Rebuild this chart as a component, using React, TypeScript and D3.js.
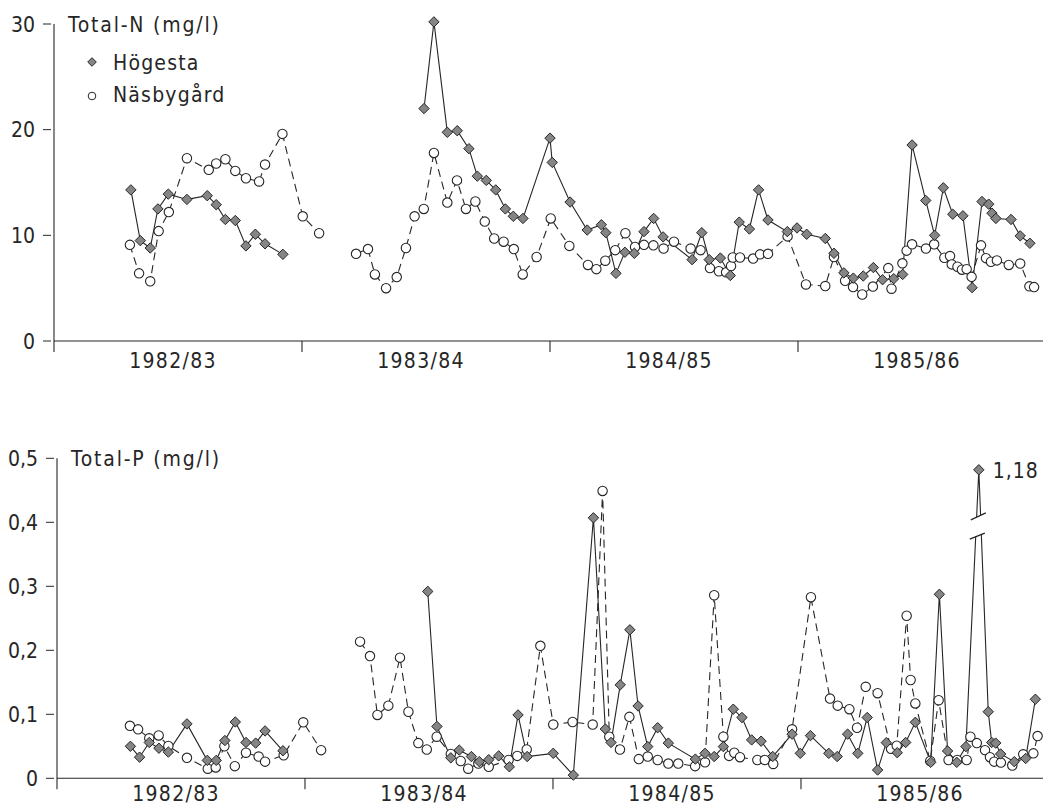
import React from "react";
import * as d3 from "d3";

// ---- Data (t = years since start of 1982/83 season, value) ----
const seasons = ["1982/83", "1983/84", "1984/85", "1985/86"];
const nTicks = [0, 10, 20, 30];
const nTickLabels = ["0", "10", "20", "30"];
const pTicks = [0, 0.1, 0.2, 0.3, 0.4, 0.5];
const pTickLabels = ["0", "0,1", "0,2", "0,3", "0,4", "0,5"];

// Total-N, Högesta
const hogN1: [number, number][] = [
  [0.310, 14.3], [0.348, 9.5], [0.388, 8.8], [0.419, 12.5], [0.461, 13.9], [0.536, 13.4],
  [0.618, 13.75], [0.654, 12.9], [0.691, 11.5], [0.731, 11.4], [0.774, 9.0], [0.812, 10.1],
  [0.851, 9.2], [0.923, 8.2],
];
const hogN2: [number, number][] = [
  [1.492, 22.0], [1.532, 30.2], [1.586, 19.75], [1.626, 19.9], [1.673, 18.2], [1.707, 15.6],
  [1.743, 15.2], [1.781, 14.3], [1.820, 12.5], [1.852, 11.8], [1.891, 11.6], [2.000, 19.2],
  [2.009, 16.9], [2.081, 13.15], [2.150, 10.5], [2.207, 11.0], [2.225, 10.25], [2.266, 6.4],
  [2.302, 8.4], [2.340, 8.3], [2.379, 10.35], [2.418, 11.6], [2.456, 9.85], [2.573, 7.7],
  [2.612, 10.25], [2.642, 7.7], [2.687, 7.85], [2.727, 6.2], [2.763, 11.25], [2.804, 10.6],
  [2.841, 14.3], [2.879, 11.45], [2.957, 10.35], [2.996, 10.7], [3.035, 10.1], [3.110, 9.7],
  [3.145, 8.3], [3.185, 6.45], [3.223, 5.95], [3.263, 6.15], [3.304, 6.95], [3.341, 5.8],
  [3.386, 5.9], [3.422, 6.3], [3.460, 18.55], [3.515, 13.3], [3.551, 10.0], [3.586, 14.5],
  [3.624, 12.0], [3.665, 11.85], [3.702, 5.05], [3.742, 13.2], [3.769, 12.95], [3.782, 12.1],
  [3.798, 11.6], [3.859, 11.5], [3.896, 9.95], [3.935, 9.25],
];
// Total-N, Näsbygård
const nasN1: [number, number][] = [
  [0.306, 9.1], [0.343, 6.4], [0.388, 5.65], [0.422, 10.4], [0.463, 12.2], [0.536, 17.3],
  [0.624, 16.2], [0.654, 16.8], [0.691, 17.2], [0.731, 16.1], [0.774, 15.4], [0.827, 15.1],
  [0.851, 16.7], [0.921, 19.6], [1.003, 11.8], [1.069, 10.2],
];
const nasN2: [number, number][] = [
  [1.218, 8.25], [1.266, 8.7], [1.294, 6.3], [1.339, 5.0], [1.382, 6.05], [1.419, 8.8],
  [1.454, 11.8], [1.491, 12.5], [1.532, 17.8], [1.586, 13.1], [1.625, 15.2], [1.661, 12.5],
  [1.699, 13.2], [1.737, 11.3], [1.775, 9.7], [1.813, 9.4], [1.854, 8.7], [1.890, 6.3],
  [1.946, 7.95], [2.003, 11.6], [2.078, 9.0], [2.153, 7.2], [2.187, 6.8], [2.223, 7.6],
  [2.263, 8.6], [2.304, 10.2], [2.343, 8.9], [2.379, 9.1], [2.417, 9.05], [2.458, 8.75],
  [2.500, 9.4], [2.567, 8.75], [2.607, 8.6], [2.645, 6.9], [2.681, 6.6], [2.710, 6.5],
  [2.730, 7.1], [2.737, 7.9], [2.766, 7.9], [2.819, 7.8], [2.847, 8.2], [2.879, 8.25],
  [2.958, 9.9], [3.032, 5.35], [3.110, 5.2], [3.145, 7.95], [3.190, 5.7], [3.222, 5.1],
  [3.259, 4.4], [3.302, 5.15], [3.364, 6.9], [3.377, 4.95], [3.421, 7.35], [3.438, 8.55],
  [3.460, 9.15], [3.516, 8.75], [3.549, 9.15], [3.590, 7.88], [3.613, 8.04], [3.620, 7.25],
  [3.643, 7.03], [3.661, 6.75], [3.680, 6.8], [3.700, 6.07], [3.738, 9.05], [3.758, 7.84],
  [3.778, 7.5], [3.802, 7.63], [3.850, 7.2], [3.896, 7.33], [3.933, 5.17], [3.952, 5.1],
];

// Total-P, Högesta
const hogP1: [number, number][] = [
  [0.296, 0.050], [0.333, 0.033], [0.372, 0.056], [0.411, 0.047], [0.449, 0.041], [0.524, 0.085],
  [0.606, 0.028], [0.642, 0.028], [0.677, 0.059], [0.719, 0.088], [0.762, 0.056], [0.801, 0.055],
  [0.839, 0.074], [0.911, 0.043],
];
const hogP2: [number, number][] = [
  [1.495, 0.292], [1.532, 0.081], [1.588, 0.032], [1.622, 0.044], [1.671, 0.034], [1.703, 0.026],
  [1.741, 0.029], [1.781, 0.035], [1.824, 0.018], [1.859, 0.099], [1.896, 0.034], [2.001, 0.039],
  [2.082, 0.005], [2.163, 0.407], [2.211, 0.077], [2.234, 0.056], [2.271, 0.146], [2.310, 0.232],
  [2.343, 0.113], [2.382, 0.0495], [2.422, 0.079], [2.465, 0.055], [2.574, 0.030], [2.613, 0.039],
  [2.650, 0.034], [2.687, 0.0495], [2.727, 0.108], [2.762, 0.095], [2.801, 0.060], [2.839, 0.058],
  [2.886, 0.034], [2.964, 0.069], [2.997, 0.039], [3.038, 0.0667], [3.112, 0.039], [3.146, 0.034],
  [3.188, 0.069], [3.229, 0.039], [3.267, 0.095], [3.309, 0.013], [3.344, 0.0557], [3.388, 0.040],
  [3.422, 0.056], [3.461, 0.0875], [3.523, 0.025], [3.558, 0.2875], [3.591, 0.0427], [3.628, 0.025],
  [3.665, 0.0495], [3.717, 1.18], [3.755, 0.104], [3.769, 0.056], [3.785, 0.055], [3.805, 0.038],
  [3.860, 0.026], [3.906, 0.031], [3.945, 0.1235],
];
// Total-P, Näsbygård
const nasP1: [number, number][] = [
  [0.294, 0.082], [0.327, 0.0765], [0.372, 0.0625], [0.410, 0.067], [0.449, 0.0505], [0.524, 0.032],
  [0.608, 0.015], [0.640, 0.017], [0.675, 0.050], [0.717, 0.019], [0.762, 0.040], [0.813, 0.034],
  [0.839, 0.026], [0.914, 0.036], [0.993, 0.0875], [1.065, 0.044],
];
const nasP2: [number, number][] = [
  [1.222, 0.2135], [1.262, 0.191], [1.292, 0.099], [1.336, 0.1135], [1.383, 0.1885], [1.417, 0.104],
  [1.457, 0.055], [1.491, 0.045], [1.531, 0.065], [1.588, 0.038], [1.628, 0.027], [1.658, 0.015],
  [1.699, 0.023], [1.741, 0.018], [1.821, 0.0286], [1.856, 0.035], [1.894, 0.045], [1.949, 0.207],
  [2.001, 0.084], [2.079, 0.088], [2.160, 0.084], [2.200, 0.449], [2.227, 0.065], [2.270, 0.045],
  [2.308, 0.096], [2.346, 0.030], [2.382, 0.034], [2.422, 0.0286], [2.465, 0.023], [2.505, 0.023],
  [2.573, 0.019], [2.613, 0.025], [2.650, 0.286], [2.687, 0.065], [2.710, 0.035], [2.731, 0.040],
  [2.754, 0.033], [2.824, 0.0286], [2.854, 0.0286], [2.888, 0.0224], [2.964, 0.0766], [3.040, 0.283],
  [3.117, 0.1245], [3.148, 0.1135], [3.195, 0.108], [3.226, 0.079], [3.261, 0.143], [3.309, 0.133],
  [3.363, 0.046], [3.386, 0.051], [3.426, 0.254], [3.442, 0.1536], [3.461, 0.117], [3.521, 0.027],
  [3.555, 0.122], [3.595, 0.0286], [3.630, 0.0286], [3.668, 0.0286], [3.683, 0.065], [3.709, 0.055],
  [3.742, 0.044], [3.762, 0.033], [3.779, 0.026], [3.806, 0.0245], [3.852, 0.020], [3.896, 0.0375],
  [3.937, 0.039], [3.954, 0.066],
];

// Axis break on the P panel: values above the top are drawn at this level
const P_BREAK_SHOW = 0.482;
const P_BREAK_LOW = 0.38;
const P_BREAK_HIGH = 0.41;

const FONT = '"DejaVu Sans Condensed", "DejaVu Sans", sans-serif';
const INK = "#262626";

const diamond = (r: number) => `M0,${-r}L${r},0L0,${r}L${-r},0Z`;

type Pt = [number, number];

function Panel(props: {
  x: d3.ScaleLinear<number, number>;
  y: d3.ScaleLinear<number, number>;
  ticks: number[];
  tickLabels: string[];
  title: string;
  hog: Pt[][];
  nas: Pt[][];
  yTop: number;
  labelGap: number;
  yShow?: (v: number) => number;
}) {
  const { x, y, ticks, tickLabels, title, hog, nas } = props;
  const show = props.yShow || ((v: number) => v);
  const line = d3
    .line<Pt>()
    .x((d) => x(d[0]))
    .y((d) => y(show(d[1])));
  const x0 = x.range()[0];
  const y0 = y(0);
  const xEnd = 1043;
  return (
    <g>
      {/* y axis */}
      <line x1={x0} x2={x0} y1={y(ticks[ticks.length - 1])} y2={y0 + 11} stroke={INK} strokeWidth={1.1} />
      {ticks.map((t, i) => (
        <g key={i}>
          <line x1={x0 - 11} x2={x0 - 3} y1={y(t)} y2={y(t)} stroke={INK} strokeWidth={1} />
          <text x={x0 - 19} y={y(t)} dy="0.36em" textAnchor="end" fontSize={21} fill={INK} fontFamily={FONT}>
            {tickLabels[i]}
          </text>
        </g>
      ))}
      {/* x axis */}
      <line x1={x0} x2={xEnd} y1={y0} y2={y0} stroke={INK} strokeWidth={1.1} />
      {[1, 2, 3].map((t) => (
        <line key={t} x1={x(t)} x2={x(t)} y1={y0} y2={y0 + 11} stroke={INK} strokeWidth={1.1} />
      ))}
      {seasons.map((s, i) => (
        <text key={s} x={x(i + 0.5) - 5} y={y0 + props.labelGap} textAnchor="middle" fontSize={21} fill={INK} fontFamily={FONT} letterSpacing={1.3}>
          {s}
        </text>
      ))}
      <text x={x0 + 14} y={props.yTop} fontSize={21} fill={INK} fontFamily={FONT} letterSpacing={1.8}>
        {title}
      </text>
      {/* lines */}
      {nas.map((seg, i) => (
        <path key={"nl" + i} d={line(seg) || ""} fill="none" stroke={INK} strokeWidth={1.1} strokeDasharray="8,5" />
      ))}
      {hog.map((seg, i) => (
        <path key={"hl" + i} d={line(seg) || ""} fill="none" stroke={INK} strokeWidth={1.1} />
      ))}
      {/* markers */}
      {nas.flat().map((d, i) => (
        <circle key={"nc" + i} cx={x(d[0])} cy={y(show(d[1]))} r={4.7} fill="#fff" stroke={INK} strokeWidth={1.1} />
      ))}
      {hog.flat().map((d, i) => (
        <path
          key={"hd" + i}
          d={diamond(5.2)}
          transform={`translate(${x(d[0])},${y(show(d[1]))})`}
          fill="#858585"
          stroke={INK}
          strokeWidth={1}
        />
      ))}
    </g>
  );
}

export default function App() {
  const xN = d3.scaleLinear().domain([0, 4]).range([54, 1046]);
  const yN = d3.scaleLinear().domain([0, 30]).range([341, 24]);
  const xP = d3.scaleLinear().domain([0, 4]).range([57, 1049]);
  const yP = d3.scaleLinear().domain([0, 0.5]).range([778.3, 458.3]);

  const pShow = (v: number) => (v > pTicks[pTicks.length - 1] ? P_BREAK_SHOW : v);
  const peak = hogP2.find((d) => d[1] > pTicks[pTicks.length - 1])!;
  const px = xP(peak[0]);
  const yHi = yP(P_BREAK_HIGH);
  const yLo = yP(P_BREAK_LOW);

  return (
    <svg width={1043} height={808} style={{ position: "absolute", left: 0, top: 0, background: "#fff" }}>
      <rect width={1043} height={808} fill="#fff" />
      <Panel x={xN} y={yN} ticks={nTicks} tickLabels={nTickLabels} title="Total-N (mg/l)" hog={[hogN1, hogN2]} nas={[nasN1, nasN2]} yTop={32} labelGap={27} />
      {/* legend */}
      <path d={diamond(4.3)} transform="translate(92,62)" fill="#858585" stroke={INK} strokeWidth={1} />
      <text x={113} y={70} fontSize={21} fill={INK} fontFamily={FONT} letterSpacing={1.2}>
        Högesta
      </text>
      <circle cx={92} cy={96} r={3.8} fill="#fff" stroke={INK} strokeWidth={1} />
      <text x={113} y={102} fontSize={21} fill={INK} fontFamily={FONT} letterSpacing={1.2}>
        Näsbygård
      </text>

      <Panel x={xP} y={yP} ticks={pTicks} tickLabels={pTickLabels} title="Total-P (mg/l)" hog={[hogP1, hogP2]} nas={[nasP1, nasP2]} yTop={466} labelGap={23} yShow={pShow} />

      {/* axis break on the high value */}
      <polygon
        points={`${px - 9},${yHi + 4} ${px + 9},${yHi - 4} ${px + 9},${yLo - 4} ${px - 9},${yLo + 4}`}
        fill="#fff"
      />
      <line x1={px - 8} x2={px + 7} y1={yHi + 4} y2={yHi - 3} stroke={INK} strokeWidth={1.2} />
      <line x1={px - 9} x2={px + 6} y1={yLo + 4} y2={yLo - 2} stroke={INK} strokeWidth={1.2} />
      <text x={px + 14} y={yP(P_BREAK_SHOW) + 8} fontSize={21} fill={INK} fontFamily={FONT} letterSpacing={1}>
        {String(peak[1]).replace(".", ",")}
      </text>
    </svg>
  );
}
